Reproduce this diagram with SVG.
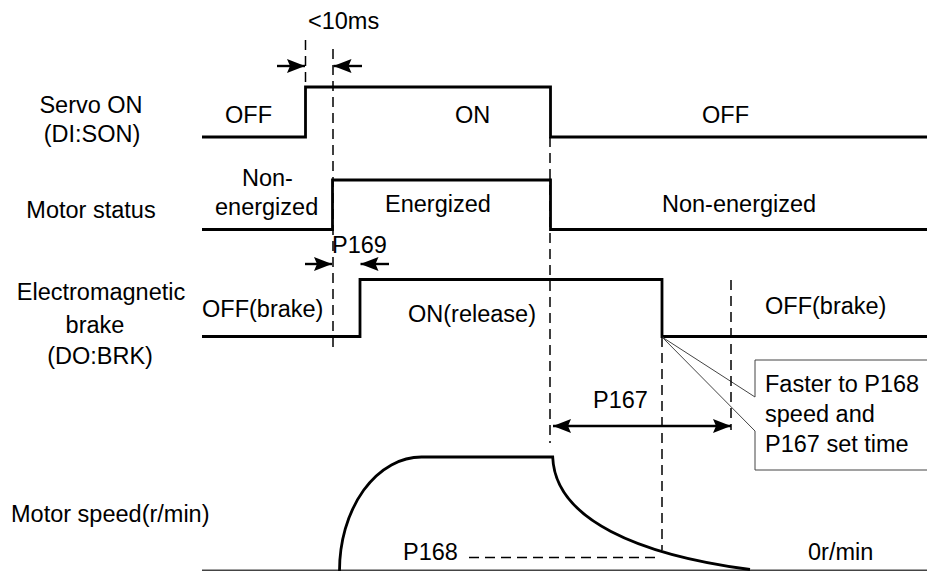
<svg xmlns="http://www.w3.org/2000/svg" width="927" height="571" viewBox="0 0 927 571">
<defs>
<style>
text{font-family:"Liberation Sans",Arial,sans-serif;font-size:23.5px;fill:#000}
.mid{text-anchor:middle}
.sig{fill:none;stroke:#000;stroke-width:2.8}
.dash{fill:none;stroke:#000;stroke-width:1.5;stroke-dasharray:10,6}
.arr{fill:none;stroke:#000;stroke-width:2.4}
</style>
<marker id="ah" viewBox="0 0 18 14" refX="18" refY="7" markerWidth="18" markerHeight="14" markerUnits="userSpaceOnUse" orient="auto">
<path d="M0,0 L18,7 L0,14 L3,7 Z" fill="#000"/>
</marker>
<marker id="ahs" viewBox="0 0 18 14" refX="0" refY="7" markerWidth="18" markerHeight="14" markerUnits="userSpaceOnUse" orient="auto">
<path d="M18,0 L0,7 L18,14 L15,7 Z" fill="#000"/>
</marker>
</defs>
<rect width="927" height="571" fill="#fff"/>

<g id="labels">
<text class="mid" x="91" y="113">Servo ON</text>
<text class="mid" x="92" y="142">(DI:SON)</text>
<text class="mid" x="91" y="218">Motor status</text>
<text class="mid" x="101" y="300">Electromagnetic</text>
<text class="mid" x="95" y="333">brake</text>
<text class="mid" x="100" y="364">(DO:BRK)</text>
<text x="11" y="522">Motor speed(r/min)</text>
</g>

<g id="servo-on">
<path class="sig" d="M202,137 H305.5 V87 H550.5 V137 H927"/>
<text x="225" y="123">OFF</text>
<text x="455" y="123">ON</text>
<text x="702" y="123">OFF</text>
</g>

<g id="motor-status">
<path class="sig" d="M202,229.5 H332.5 V180 H550.5 V229.5 H927"/>
<text x="242" y="186">Non-</text>
<text x="215" y="215">energized</text>
<text x="385" y="212">Energized</text>
<text x="662" y="212">Non-energized</text>
</g>

<g id="brake">
<path class="sig" d="M202,336.5 H360 V279.5 H662 V336.5 H927"/>
<text x="202" y="317">OFF(brake)</text>
<text x="408" y="322">ON(release)</text>
<text x="765" y="314">OFF(brake)</text>
</g>

<g id="motor-speed">
<line x1="202" y1="570.5" x2="927" y2="570.5" stroke="#444" stroke-width="2"/>
<path class="sig" d="M339.5,571 A82,114 0 0 1 421.7,457 H552.7 C555,520 640,555 750,569.5"/>
<text x="403" y="560">P168</text>
<path class="dash" d="M469,557.5 H661"/>
<text x="808" y="560">0r/min</text>
</g>

<g id="callout">
<path d="M755,360 H935 V470 H755 V431 L662,337 L755,397 Z" fill="#fff" stroke="#444" stroke-width="1"/>
<text x="765" y="392">Faster to P168</text>
<text x="765" y="422">speed and</text>
<text x="765" y="452">P167 set time</text>
</g>

<g id="connectors">
<path class="dash" d="M305.5,40 V87"/>
<path class="dash" d="M333,49 V353"/>
<path class="dash" d="M550,137 V443"/>
<path class="dash" d="M662,337 V550"/>
<path class="dash" d="M731,280 V430"/>
<line class="arr" x1="277" y1="66" x2="305" y2="66" marker-end="url(#ah)"/>
<line class="arr" x1="362" y1="66" x2="333.5" y2="66" marker-end="url(#ah)"/>
<line class="arr" x1="305" y1="264" x2="332" y2="264" marker-end="url(#ah)"/>
<line class="arr" x1="389" y1="264" x2="360.5" y2="264" marker-end="url(#ah)"/>
<line class="arr" x1="553" y1="426" x2="731" y2="426" marker-start="url(#ahs)" marker-end="url(#ah)"/>
<text x="308" y="29">&lt;10ms</text>
<text x="332" y="253">P169</text>
<text x="593" y="408">P167</text>
</g>
</svg>
